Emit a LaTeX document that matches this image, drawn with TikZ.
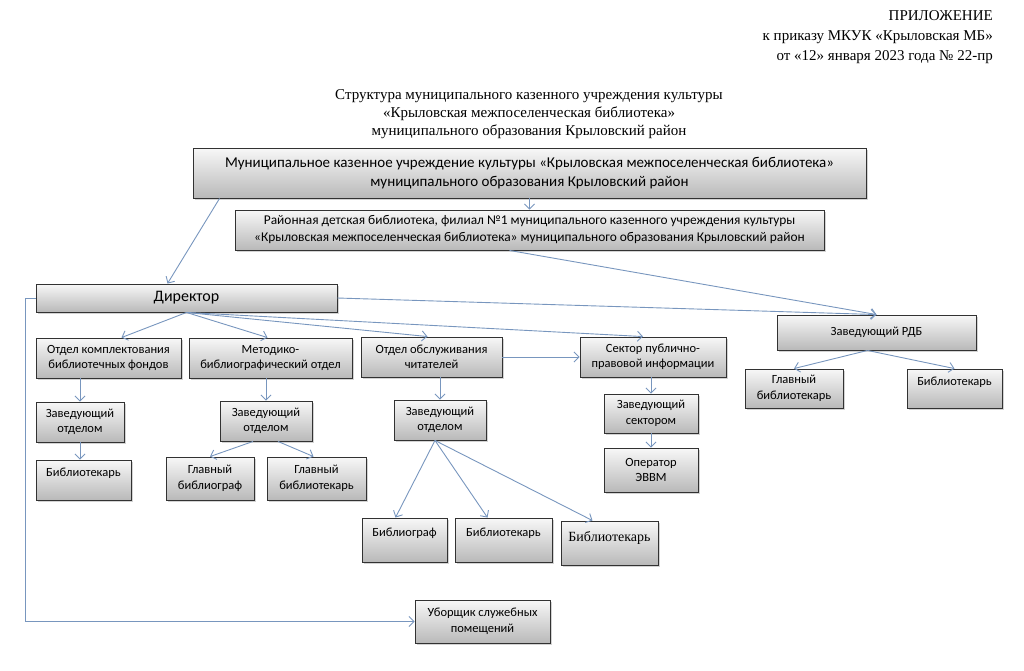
\documentclass[tikz,border=0pt]{standalone}
\usepackage{fontspec}
\setmainfont{Liberation Serif}
\newfontfamily\boxfont{Carlito}
\usetikzlibrary{arrows.meta,shadows}
\definecolor{linkblue}{RGB}{120,150,190}
\definecolor{boxedge}{RGB}{50,50,50}

\begin{document}
\begin{tikzpicture}[x=1pt,y=-1pt,
            box/.style = {rectangle,
            draw=boxedge, line width=0.9pt,
            top color=gray!6, bottom color=gray!55,
            drop shadow={shadow xshift=1.5pt,shadow yshift=-1.5pt,opacity=0.35},
            align=center, inner sep=1pt,
            font=\boxfont\fontsize{12.5}{15.5}\selectfont},
            title/.style = {inner sep=0pt,
            font=\fontsize{15}{20}\selectfont},
            link/.style = {draw=linkblue, line width=0.9pt,
            -{Straight Barb[length=5pt,width=10pt]}}]
        \useasboundingbox (0,0) rectangle (1024,670);

        % Header
        \node[title, align=right, anchor=north east] (pril) at (993,10)
            {ПРИЛОЖЕНИЕ\\к приказу МКУК «Крыловская МБ»\\от «12» января 2023 года № 22-пр};
        \node[title, align=center, anchor=north, font=\fontsize{15}{18}\selectfont] (head) at (529,89)
            {Структура муниципального казенного учреждения культуры\\«Крыловская межпоселенческая библиотека»\\муниципального образования Крыловский район};

        % Institution and branch
        \node[box, minimum width=673pt, minimum height=50pt, font=\boxfont\fontsize{15}{19}\selectfont] (main) at (529.5,173)
            {Муниципальное казенное учреждение культуры «Крыловская межпоселенческая библиотека»\\муниципального образования Крыловский район};
        \node[box, minimum width=589pt, minimum height=40pt, font=\boxfont\fontsize{13.4}{17}\selectfont] (rdb) at (529.5,230)
            {Районная детская библиотека, филиал №1 муниципального казенного учреждения культуры\\«Крыловская межпоселенческая  библиотека» муниципального образования Крыловский район};

        % Director
        \node[box, minimum width=301pt, minimum height=28pt, font=\boxfont\fontsize{16}{18}\selectfont] (dir) at (186.5,298) {Директор};

        % Departments
        \node[box, minimum width=145pt, minimum height=40pt] (komp) at (108.5,358) {Отдел комплектования\\библиотечных фондов};
        \node[box, minimum width=163pt, minimum height=40pt] (metod) at (270.5,358) {Методико-\\библиографический отдел};
        \node[box, minimum width=141pt, minimum height=40pt] (obsl) at (431.5,357) {Отдел обслуживания\\читателей};
        \node[box, minimum width=146pt, minimum height=40pt] (sektor) at (653,357) {Сектор публично-\\правовой информации};

        % Children's library staff
        \node[box, minimum width=199pt, minimum height=35pt] (zavrdb) at (876.5,332.5) {Заведующий РДБ};
        \node[box, minimum width=98pt, minimum height=39pt] (glbibrdb) at (794,388.5) {Главный\\библиотекарь};
        \node[box, minimum width=95pt, minimum height=39pt] (bibrdb) at (954.5,388.5) {Библиотекарь\\\mbox{}};

        % Heads
        \node[box, minimum width=88pt, minimum height=40pt] (zav1) at (80,422) {Заведующий\\отделом};
        \node[box, minimum width=92pt, minimum height=40pt] (zav2) at (266,421) {Заведующий\\отделом};
        \node[box, minimum width=92pt, minimum height=40pt] (zav3) at (440,420) {Заведующий\\отделом};
        \node[box, minimum width=94pt, minimum height=39pt] (zavsek) at (651,413.5) {Заведующий\\сектором};
        \node[box, minimum width=94pt, minimum height=44pt] (oper) at (651,470) {Оператор\\ЭВВМ};

        % Staff
        \node[box, minimum width=95pt, minimum height=40pt] (bib1) at (83.5,480) {Библиотекарь\\\mbox{}};
        \node[box, minimum width=88pt, minimum height=43pt] (glbibliograf) at (210,478.5) {Главный\\библиограф};
        \node[box, minimum width=99pt, minimum height=43pt] (glbibliotekar) at (316.5,478.5) {Главный\\библиотекарь};
        \node[box, minimum width=85pt, minimum height=44pt] (bibliograf) at (404.5,540) {Библиограф\\\mbox{}};
        \node[box, minimum width=97pt, minimum height=44pt] (bib2) at (503.5,540) {Библиотекарь\\\mbox{}};
        \node[box, minimum width=97pt, minimum height=44pt, font=\fontsize{14}{16}\selectfont] (bib3) at (609.5,543) {Библиотекарь\\[-2pt]\mbox{}};
        \node[box, minimum width=135pt, minimum height=43pt] (ubor) at (482.5,621.5) {Уборщик служебных\\помещений};

        % Connectors
        \draw[link] (main.south) -- (rdb.north);
        \draw[link] ([xshift=27pt]main.south west) -- ([xshift=-19pt]dir.north);
        \draw[link] ([xshift=-20pt]rdb.south) -- (zavrdb.north);
        \draw[link] (dir.east) -- (zavrdb.north);
        \draw[link] (dir.south) -- ([xshift=13pt]komp.north);
        \draw[link] (dir.south) -- ([xshift=-3pt]metod.north);
        \draw[link] (dir.south) -- ([xshift=-4pt]obsl.north);
        \draw[link] (dir.south) -- ([xshift=-10pt]sektor.north);
        \draw[link] (obsl.east) -- (sektor.west);
        \draw[link] (dir.west) -- ++(-10,0) |- (ubor.west);

        \draw[link] (zav1.north |- komp.south) -- (zav1.north);
        \draw[link] (zav1.south) -- (zav1.south |- bib1.north);
        \draw[link] (zav2.north |- metod.south) -- (zav2.north);
        \draw[link] ([xshift=-13pt]zav2.south) -- (glbibliograf.north);
        \draw[link] ([xshift=12pt]zav2.south) -- ([xshift=-3pt]glbibliotekar.north);
        \draw[link] (zav3.north |- obsl.south) -- (zav3.north);
        \draw[link] ([xshift=-5pt]zav3.south) -- ([xshift=-9pt]bibliograf.north);
        \draw[link] ([xshift=-5pt]zav3.south) -- ([xshift=-16pt]bib2.north);
        \draw[link] ([xshift=-5pt]zav3.south) -- ([xshift=-17pt]bib3.north);
        \draw[link] (zavsek.north |- sektor.south) -- (zavsek.north);
        \draw[link] (zavsek.south) -- (oper.north);
        \draw[link] ([xshift=-9pt]zavrdb.south) -- (glbibrdb.north);
        \draw[link] ([xshift=-9pt]zavrdb.south) -- (bibrdb.north);
    \end{tikzpicture}
\end{document}
